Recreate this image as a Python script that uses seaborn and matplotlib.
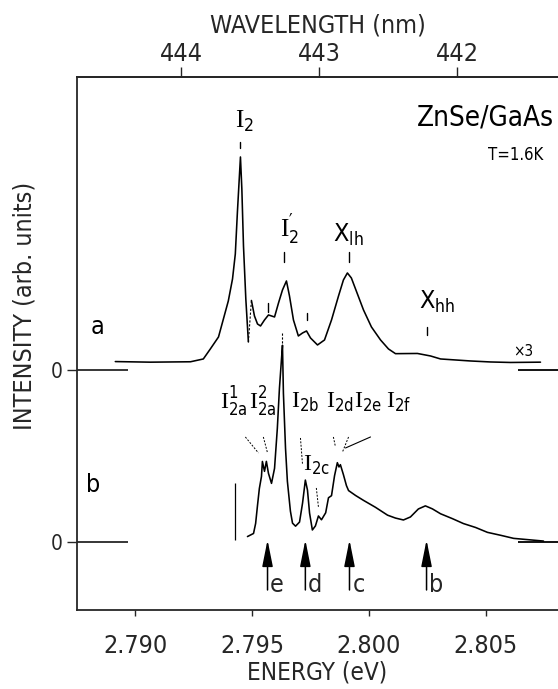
import numpy as np
import pandas as pd
import matplotlib
matplotlib.use("Agg")
import matplotlib.pyplot as plt
import seaborn as sns

# ---------------- data ----------------
# spectrum a (upper trace), energy in eV, intensity in arb. units
a1_energy = [2.78914, 2.79064, 2.79236, 2.79291, 2.79321, 2.79356, 2.79377, 2.79398,
             2.79416, 2.79428, 2.79437, 2.79446, 2.79450, 2.79456, 2.79463, 2.79473, 2.79484]
a1_int = [8.4, 7.8, 8.2, 11, 21, 33, 51, 69, 91, 116, 158, 196, 213, 181, 124, 71, 28]
# after the I2 line the trace is magnified x3
a2_energy = [2.79497, 2.79510, 2.79523, 2.79536, 2.79553, 2.79570, 2.79583, 2.79596,
             2.79613, 2.79630, 2.79647, 2.79660, 2.79677, 2.79698, 2.79716, 2.79733,
             2.79750, 2.79780, 2.79810, 2.79840, 2.79870, 2.79891, 2.79908, 2.79925,
             2.79951, 2.79977, 2.80011, 2.80050, 2.80084, 2.80114, 2.80157, 2.80208,
             2.80264, 2.80307, 2.80371, 2.80435, 2.80521, 2.80607, 2.80735]
a2_int = [69.5, 54, 46, 44, 50, 55, 54, 53, 67, 80, 89, 74, 50, 34, 37, 39, 32, 25, 30,
          50, 74, 90, 97, 92, 76, 60, 43, 30, 21, 16.3, 16.4, 16.5, 14, 11, 10, 9, 8,
          7.5, 7.8]

# spectrum b (lower trace)
b_energy = [2.79480, 2.79506, 2.79515, 2.79523, 2.79531, 2.79540, 2.79544, 2.79553,
            2.79561, 2.79570, 2.79583, 2.79596, 2.79608, 2.79617, 2.79626, 2.79630,
            2.79634, 2.79643, 2.79651, 2.79664, 2.79673, 2.79686, 2.79703, 2.79716,
            2.79728, 2.79737, 2.79746, 2.79758, 2.79771, 2.79784, 2.79797, 2.79815,
            2.79827, 2.79840, 2.79853, 2.79865, 2.79872, 2.79878, 2.79891, 2.79904,
            2.79913, 2.79943, 2.79977, 2.80028, 2.80080, 2.80114, 2.80148, 2.80178,
            2.80212, 2.80242, 2.80272, 2.80307, 2.80358, 2.80405, 2.80457, 2.80508,
            2.80564, 2.80620, 2.80748]
b_int = [5.4, 8.5, 18.5, 36.5, 53.5, 65.5, 80.5, 70.6, 80.6, 68.6, 58.6, 73.6, 113.7,
         153.7, 183.7, 196.7, 148.7, 93.7, 60.7, 30.8, 18.8, 15.8, 19.9, 38.9, 61.9,
         51.9, 28.9, 12, 16, 26, 22.2, 29.2, 44.2, 46.3, 66.3, 79.3, 75, 77.3, 67.3,
         56.3, 51.4, 46.5, 41.6, 34.7, 26.8, 23.9, 22, 25, 33, 36.1, 33.1, 28.2, 23.3,
         18.4, 14.5, 9.6, 6.7, 3.6, 0.9]

# arrows under spectrum b
arrow_names = ["e", "d", "c", "b"]
arrow_energy = [2.79566, 2.79728, 2.79917, 2.80247]

energy_ticks = [2.790, 2.795, 2.800, 2.805]
energy_tick_labels = ["2.790", "2.795", "2.800", "2.805"]
wavelength_ticks = [444, 443, 442]

# ---------------- styling ----------------
sns.set_style("ticks")
plt.rcParams["font.family"] = ["DejaVu Sans"]
plt.rcParams["font.stretch"] = "condensed"
plt.rcParams["mathtext.fontset"] = "custom"
plt.rcParams["mathtext.rm"] = "DejaVu Sans:stretch=condensed"
plt.rcParams["mathtext.sf"] = "Liberation Serif"
plt.rcParams["mathtext.default"] = "regular"

fig = plt.figure(figsize=(5.58, 6.89), dpi=100)
ax = fig.add_axes([0.138, 0.1147, 0.862, 0.7736])

A0, B0 = 240, 68       # vertical offsets (zero levels) of the two traces
XMIN, XMAX = 2.7875, 2.8081

df_a1 = pd.DataFrame({"E": a1_energy, "I": np.array(a1_int) + A0})
df_a2 = pd.DataFrame({"E": a2_energy, "I": np.array(a2_int) + A0})
df_b = pd.DataFrame({"E": b_energy, "I": np.array(b_int) + B0})
lw = 1.15
sns.lineplot(data=df_a1, x="E", y="I", color="black", lw=lw, sort=False, estimator=None, ax=ax)
sns.lineplot(data=df_a2, x="E", y="I", color="black", lw=lw, sort=False, estimator=None, ax=ax)
sns.lineplot(data=df_b, x="E", y="I", color="black", lw=lw, sort=False, estimator=None, ax=ax)
# dashed join where the gain changes
ax.plot([a1_energy[-1], a2_energy[0]], [a1_int[-1] + A0, a2_int[0] + A0],
        color="black", lw=0.8, ls=(0, (2, 1.5)))

ax.set_xlim(XMIN, XMAX)
ax.set_ylim(0, 533)

# zero lines
for z in (A0, B0):
    ax.hlines(z, XMIN, 2.7897, color="black", lw=1.1)
    ax.hlines(z, 2.80637, XMAX, color="black", lw=1.3)
# scale bar near b
ax.vlines(2.79428, B0 + 2, B0 + 59, color="black", lw=0.9)

ax.set_yticks([B0, A0])
ax.set_yticklabels(["0", "0"], fontsize=15)
ax.tick_params(axis="y", direction="out", length=7, width=1, pad=3)

ax.set_xticks(energy_ticks)
ax.set_xticklabels(energy_tick_labels, fontsize=18)
ax.tick_params(axis="x", direction="out", length=4, width=1, pad=13)
ax.set_xlabel("ENERGY (eV)", fontsize=17.5, labelpad=2)
ax.set_ylabel("INTENSITY (arb. units)", fontsize=18)
ax.yaxis.set_label_coords(-0.085, 0.57)

for s in ["left", "bottom", "top"]:
    ax.spines[s].set_linewidth(1.3)
ax.spines["right"].set_visible(False)

def e2l(e):
    return 443 - (np.asarray(e) - 2.79788) / 0.005915

def l2e(l):
    return 2.79788 + (443 - np.asarray(l)) * 0.005915

sec = ax.secondary_xaxis("top", functions=(e2l, l2e))
sec.set_xticks(wavelength_ticks)
sec.set_xticklabels([str(w) for w in wavelength_ticks], fontsize=18)
sec.tick_params(direction="out", length=7, width=1, pad=1)
sec.set_xlabel("WAVELENGTH (nm)", fontsize=18, labelpad=7)
sec.spines["top"].set_linewidth(1.3)

# ---------------- annotations ----------------
def I(sub, sup=None):
    if sup:
        return r"$\mathsf{I}_{%s}^{%s}$" % (sub, sup)
    return r"$\mathsf{I}_{%s}$" % sub

kw = dict(ha="center", va="center", color="black")
ax.text(2.79467, 489, I("2"), fontsize=18, **kw)
ax.text(2.79660, 380, I("2", "\u2032"), fontsize=18, **kw)
ax.text(2.79913, 375, r"$X_{lh}$", fontsize=18, **kw)
ax.text(2.80294, 308, r"$X_{hh}$", fontsize=18, **kw)
ax.text(2.80500, 492, "ZnSe/GaAs", fontsize=20, **kw)
ax.text(2.80628, 455, "T=1.6K", fontsize=12, **kw)
ax.text(2.80662, 258, "×3", fontsize=11, **kw)
ax.text(2.78837, 283, "a", fontsize=18, **kw)
ax.text(2.78820, 125, "b", fontsize=18, **kw)

ax.text(2.79420, 208, I("2a", "1"), fontsize=17, **kw)
ax.text(2.79544, 208, I("2a", "2"), fontsize=17, **kw)
ax.text(2.79728, 208, I("2b"), fontsize=17, **kw)
ax.text(2.79874, 208, I("2d"), fontsize=17, **kw)
ax.text(2.79998, 208, I("2e"), fontsize=17, **kw)
ax.text(2.80127, 208, I("2f"), fontsize=17, **kw)
ax.text(2.79776, 145, I("2c"), fontsize=17, **kw)

# short tick marks above peaks (spectrum a)
for e, y0, y1 in [(2.79450, 462, 468), (2.79638, 348, 358), (2.79913, 348, 358),
                  (2.80251, 275, 283), (2.79570, 298, 307), (2.79733, 290, 297)]:
    ax.plot([e, e], [y0, y1], color="black", lw=1)
ax.plot([2.79630, 2.79630], [267, 277], color="black", lw=0.8, ls=(0, (2, 1.5)))

# leader lines (spectrum b)
for (e0, y0, e1, y1) in [(2.79471, 173, 2.79527, 157), (2.79548, 173, 2.79566, 157),
                         (2.79707, 172, 2.79716, 145), (2.79775, 122, 2.79784, 103),
                         (2.79848, 173, 2.79857, 163), (2.79913, 173, 2.79887, 158)]:
    ax.plot([e0, e1], [y0, y1], color="black", lw=0.7, ls=(0, (2, 1.5)))
ax.plot([2.80007, 2.79900], [173, 162], color="black", lw=0.8)

# arrows
for name, e in zip(arrow_names, arrow_energy):
    ax.annotate("", xy=(e, 70), xytext=(e, 20),
                arrowprops=dict(arrowstyle="-|>,head_length=0.9,head_width=0.18",
                                color="black", lw=1.1, mutation_scale=18,
                                shrinkA=0, shrinkB=0))
    ax.text(e + 0.00040, 25, name, fontsize=18, ha="center", va="center")

fig.savefig("out.png", dpi=100)
